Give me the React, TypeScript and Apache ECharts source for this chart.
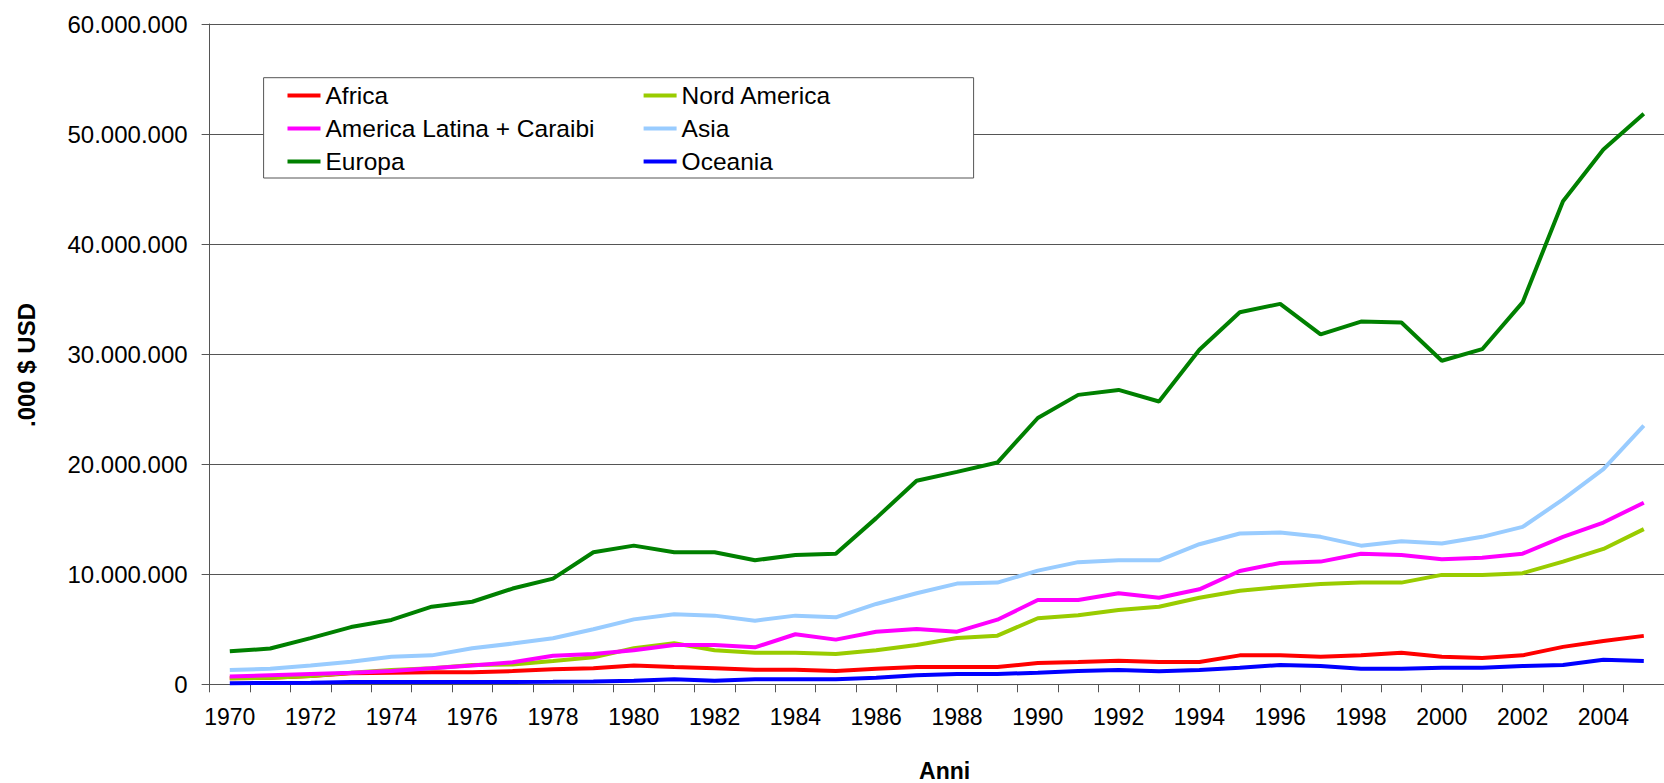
import React, { useEffect, useRef } from "react";
import * as echarts from "echarts";

const years: string[] = [
  "1970","1971","1972","1973","1974","1975","1976","1977","1978","1979",
  "1980","1981","1982","1983","1984","1985","1986","1987","1988","1989",
  "1990","1991","1992","1993","1994","1995","1996","1997","1998","1999",
  "2000","2001","2002","2003","2004","2005",
];

// values in millions of (.000 $ USD)
const africa = [
  0.55, 0.6, 0.75, 1.0, 1.05, 1.1, 1.1, 1.2, 1.36, 1.45,
  1.7, 1.57, 1.45, 1.33, 1.33, 1.2, 1.42, 1.57, 1.57, 1.57,
  1.94, 2.03, 2.15, 2.03, 2.03, 2.63, 2.63, 2.5, 2.63, 2.87,
  2.5, 2.39, 2.63, 3.4, 3.94, 4.4,
];
const nordAmerica = [
  0.55, 0.6, 0.75, 1.05, 1.3, 1.45, 1.75, 1.8, 2.12, 2.45,
  3.27, 3.73, 3.1, 2.87, 2.87, 2.75, 3.1, 3.57, 4.2, 4.42,
  6.0, 6.27, 6.75, 7.05, 7.87, 8.5, 8.85, 9.12, 9.24, 9.24,
  9.94, 9.94, 10.1, 11.15, 12.3, 14.1,
];
const americaLatina = [
  0.7, 0.82, 0.94, 1.06, 1.2, 1.45, 1.7, 2.0, 2.6, 2.75,
  3.1, 3.57, 3.57, 3.36, 4.55, 4.06, 4.78, 5.03, 4.78, 5.87,
  7.66, 7.66, 8.27, 7.87, 8.63, 10.3, 11.03, 11.15, 11.87, 11.75,
  11.36, 11.5, 11.87, 13.4, 14.7, 16.5,
];
const asia = [
  1.3, 1.42, 1.7, 2.05, 2.5, 2.63, 3.27, 3.7, 4.18, 5.0,
  5.9, 6.36, 6.24, 5.78, 6.24, 6.09, 7.3, 8.27, 9.15, 9.24,
  10.33, 11.1, 11.27, 11.27, 12.73, 13.7, 13.8, 13.4, 12.6, 13.0,
  12.8, 13.4, 14.3, 16.8, 19.55, 23.5,
];
const europa = [
  3.0, 3.25, 4.2, 5.2, 5.85, 7.05, 7.5, 8.7, 9.6, 12.0,
  12.6, 12.0, 12.0, 11.27, 11.75, 11.87, 15.1, 18.5, 19.3, 20.15,
  24.2, 26.3, 26.75, 25.7, 30.4, 33.8, 34.57, 31.8, 32.96, 32.87,
  29.4, 30.45, 34.7, 43.9, 48.6, 51.85,
];
const oceania = [
  0.1, 0.12, 0.15, 0.2, 0.2, 0.22, 0.22, 0.22, 0.23, 0.25,
  0.33, 0.45, 0.33, 0.45, 0.45, 0.45, 0.6, 0.82, 0.94, 0.94,
  1.05, 1.2, 1.3, 1.18, 1.3, 1.5, 1.75, 1.66, 1.42, 1.42,
  1.5, 1.5, 1.66, 1.75, 2.24, 2.12,
];

const seriesNames = [
  "Africa",
  "Nord America",
  "America Latina + Caraibi",
  "Asia",
  "Europa",
  "Oceania",
];
const seriesColors = ["#FF0000", "#99CC00", "#FF00FF", "#99CCFF", "#008000", "#0000FF"];
const seriesValues = [africa, nordAmerica, americaLatina, asia, europa, oceania];

const yTitle = ".000 $ USD";
const xTitle = "Anni";

const FONT = "'Liberation Sans', Arial, sans-serif";

function fmt(v: number): string {
  return String(Math.round(v)).replace(/\B(?=(\d{3})+(?!\d))/g, ".");
}

export default function App() {
  const ref = useRef<HTMLDivElement>(null);
  useEffect(() => {
    if (!ref.current) return;
    const chart = echarts.init(ref.current, null, { renderer: "svg" });
    const series = seriesNames.map((name, i) => ({
      name,
      type: "line",
      data: seriesValues[i].map((v) => v * 1000000),
      showSymbol: false,
      symbol: "none",
      lineStyle: { width: 4, color: seriesColors[i] },
      itemStyle: { color: seriesColors[i] },
      z: 2,
    }));
    const legendCommon = {
      orient: "vertical",
      icon: "rect",
      itemWidth: 33,
      itemHeight: 4,
      itemGap: 8,
      padding: 0,
      top: 83,
      selectedMode: false,
      z: 10,
      textStyle: { fontFamily: FONT, fontSize: 24.5, color: "#000", lineHeight: 24 },
    };
    chart.setOption({
      animation: false,
      backgroundColor: "#fff",
      grid: { left: 209.6, top: 24, width: 1470.6, height: 660.3, containLabel: false },
      legend: [
        { ...legendCommon, left: 287.5, data: [seriesNames[0], seriesNames[2], seriesNames[4]] },
        { ...legendCommon, left: 643.6, data: [seriesNames[1], seriesNames[3], seriesNames[5]] },
      ],
      xAxis: {
        type: "category",
        data: years,
        boundaryGap: true,
        axisLine: { lineStyle: { color: "#555", width: 1 } },
        axisTick: { show: true, interval: 0, length: 8, lineStyle: { color: "#555" } },
        axisLabel: {
          interval: 1,
          margin: 21,
          fontFamily: FONT,
          fontSize: 23,
          color: "#000",
        },
        splitLine: { show: false },
      },
      yAxis: {
        type: "value",
        min: 0,
        max: 60000000,
        interval: 10000000,
        axisLine: { show: true, lineStyle: { color: "#555", width: 1 } },
        axisTick: { show: true, length: 8, lineStyle: { color: "#555" } },
        axisLabel: {
          margin: 22,
          fontFamily: FONT,
          fontSize: 24,
          color: "#000",
          formatter: (v: number) => fmt(v),
        },
        splitLine: { show: true, lineStyle: { color: "#555", width: 1 } },
      },
      graphic: [
        {
          type: "rect",
          z: 5,
          shape: { x: 263.6, y: 77.7, width: 710, height: 100.3 },
          style: { fill: "#fff", stroke: "#555", lineWidth: 1 },
        },
        {
          type: "text",
          z: 5,
          x: 26,
          y: 365,
          rotation: Math.PI / 2,
          style: {
            text: yTitle,
            font: `bold 24px ${FONT}`,
            fill: "#000",
            align: "center",
            verticalAlign: "middle",
          },
        },
        {
          type: "text",
          z: 5,
          x: 944.6,
          y: 770.5,
          style: {
            text: xTitle,
            font: `bold 23px ${FONT}`,
            fill: "#000",
            align: "center",
            verticalAlign: "middle",
          },
        },
      ],
      series,
    });
    return () => chart.dispose();
  }, []);
  return (
    <div
      ref={ref}
      style={{ position: "absolute", left: 0, top: 0, width: 1664, height: 783 }}
    />
  );
}
